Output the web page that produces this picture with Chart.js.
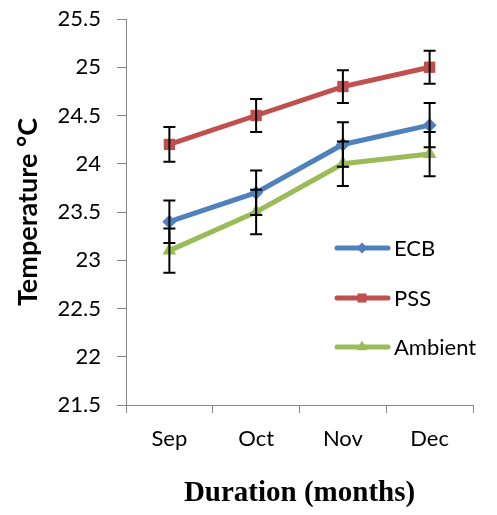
<!DOCTYPE html>
<html>
<head>
<meta charset="utf-8">
<script src="https://cdn.jsdelivr.net/npm/chart.js@4/dist/chart.umd.min.js"></script>
<style>
  html, body { margin: 0; padding: 0; background: #fff; }
  #wrap { width: 497px; height: 515px; }
</style>
</head>
<body>
<div id="wrap"><canvas id="chart"></canvas></div>
<script>
// Data
const months = ["Sep", "Oct", "Nov", "Dec"];
const ecb = [23.4, 23.7, 24.2, 24.4];
const pss = [24.2, 24.5, 24.8, 25.0];
const ambient = [23.1, 23.5, 24.0, 24.1];
// error bar half sizes
const ecbErr = [0.22, 0.23, 0.23, 0.23];
const pssErr = [0.18, 0.17, 0.17, 0.17];
const ambientErr = [0.23, 0.23, 0.23, 0.23];

const axisGrey = "#868686";

// error bars drawn over the lines
const errorBars = {
  id: "errorBars",
  afterDatasetsDraw(chart) {
    const ctx = chart.ctx;
    const y = chart.scales.y;
    ctx.save();
    ctx.strokeStyle = "#000";
    ctx.lineWidth = 2;
    chart.data.datasets.forEach((ds, i) => {
      const meta = chart.getDatasetMeta(i);
      meta.data.forEach((pt, j) => {
        const e = ds.errors[j];
        const top = y.getPixelForValue(ds.data[j] + e);
        const bot = y.getPixelForValue(ds.data[j] - e);
        ctx.beginPath();
        ctx.moveTo(pt.x, top); ctx.lineTo(pt.x, bot);
        ctx.moveTo(pt.x - 6, top); ctx.lineTo(pt.x + 6, top);
        ctx.moveTo(pt.x - 6, bot); ctx.lineTo(pt.x + 6, bot);
        ctx.stroke();
      });
    });
    ctx.restore();
  }
};

// legend sitting inside the plot, lower right
const insideLegend = {
  id: "insideLegend",
  afterDraw(chart) {
    const ctx = chart.ctx;
    const rows = [248, 298, 347];
    ctx.save();
    chart.data.datasets.forEach((ds, i) => {
      const yy = rows[i];
      ctx.strokeStyle = ds.borderColor;
      ctx.lineWidth = ds.borderWidth;
      ctx.lineCap = "round";
      ctx.beginPath();
      ctx.moveTo(337, yy); ctx.lineTo(388, yy);
      ctx.stroke();
      ctx.fillStyle = ds.backgroundColor;
      Chart.helpers.drawPoint(ctx, {
        pointStyle: ds.pointStyle, radius: ds.pointRadius * 0.8, rotation: 0, borderWidth: 0
      }, 362, yy);
      ctx.fillStyle = "#000";
      ctx.font = "22px Lato";
      ctx.textBaseline = "middle";
      ctx.fillText(ds.label, 394, yy + 1);
    });
    ctx.restore();
  }
};

new Chart(document.getElementById("chart"), {
  type: "line",
  data: {
    labels: months,
    datasets: [
      { label: "ECB", data: ecb, errors: ecbErr, borderColor: "#4F81BD", backgroundColor: "#4F81BD",
        pointStyle: "rectRot", pointRadius: 7, order: 2 },
      { label: "PSS", data: pss, errors: pssErr, borderColor: "#C0504D", backgroundColor: "#C0504D",
        pointStyle: "rect", pointRadius: 8, order: 1 },
      { label: "Ambient", data: ambient, errors: ambientErr, borderColor: "#9BBB59", backgroundColor: "#9BBB59",
        pointStyle: "triangle", pointRadius: 8, order: 0 }
    ].map(d => Object.assign(d, { borderWidth: 5, tension: 0, pointBorderWidth: 0 }))
  },
  options: {
    responsive: true,
    maintainAspectRatio: false,
    animation: false,
    layout: { padding: { top: 19, right: 24, left: 0, bottom: 0 } },
    plugins: { legend: { display: false }, tooltip: { enabled: false } },
    scales: {
      x: {
        offset: true,
        grid: { offset: true, drawOnChartArea: false, tickLength: 8, color: axisGrey },
        border: { color: axisGrey, width: 1 },
        ticks: { color: "#000", font: { family: "Lato", size: 22 }, padding: 13 },
        title: {
          display: true, text: "Duration (months)", color: "#000",
          font: { family: "Liberation Serif", size: 29, weight: "bold" }, padding: { bottom: 4 }
        },
        afterFit(scale) { scale.height = 110; scale.paddingLeft = 0; scale.paddingRight = 0; }
      },
      y: {
        min: 21.5, max: 25.5,
        ticks: {
          stepSize: 0.5, color: "#000", font: { family: "Lato", size: 22 }, padding: 16,
          callback: v => String(Number(v.toFixed(1)))
        },
        grid: { drawOnChartArea: false, tickLength: 9, color: axisGrey },
        border: { color: axisGrey, width: 1 },
        title: {
          display: true, text: "Temperature °C", color: "#000",
          font: { family: "Lato", size: 27, weight: "bold" }, padding: { top: 12 }
        },
        afterFit(scale) { scale.width = 126; scale.paddingTop = 0; scale.paddingBottom = 0; }
      }
    }
  },
  plugins: [errorBars, insideLegend]
});
</script>
</body>
</html>
